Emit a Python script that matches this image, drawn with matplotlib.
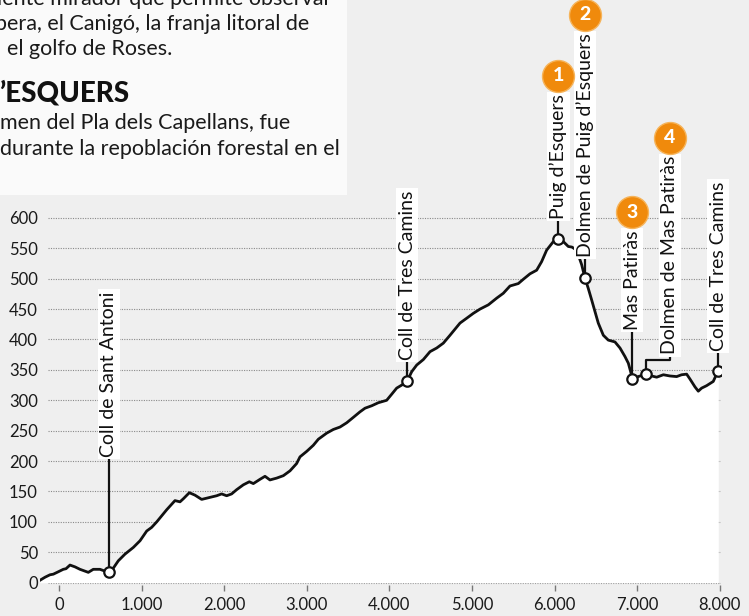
import matplotlib
matplotlib.use("Agg")
import matplotlib.pyplot as plt
import numpy as np
from matplotlib.patches import Rectangle
from matplotlib.ticker import FuncFormatter

plt.rcParams['font.family'] = ['Lato', 'DejaVu Sans']

# elevation profile (distance in m, elevation in m)
dist = [-230, -169, -109, -69, -8, 52, 85, 133, 194, 254, 355, 415, 496, 557, 605,
        658, 718, 799, 900, 981, 1062, 1122, 1183, 1304, 1404, 1465, 1505, 1578,
        1646, 1727, 1788, 1848, 1909, 1969, 2030, 2090, 2151, 2232, 2304, 2353,
        2433, 2494, 2554, 2635, 2716, 2797, 2877, 2918, 2999, 3079, 3140, 3241,
        3321, 3402, 3483, 3564, 3644, 3705, 3786, 3866, 3967, 4028, 4088, 4149,
        4217, 4270, 4331, 4411, 4492, 4573, 4653, 4734, 4855, 4936, 5016, 5097,
        5198, 5299, 5379, 5460, 5561, 5621, 5702, 5783, 5843, 5904, 5985, 6045,
        6106, 6166, 6210, 6267, 6328, 6368, 6408, 6449, 6489, 6529, 6590, 6650,
        6731, 6792, 6852, 6893, 6921, 6941, 7013, 7107, 7175, 7236, 7317, 7397,
        7478, 7538, 7599, 7639, 7700, 7740, 7780, 7840, 7921, 7982]
elev = [4, 9, 13, 14, 18, 22, 23, 29, 26, 22, 17, 22, 22, 19, 17,
        24, 36, 47, 58, 69, 85, 91, 100, 120, 135, 133, 138, 148,
        144, 137, 139, 141, 143, 146, 143, 146, 153, 161, 166, 163,
        170, 175, 169, 172, 176, 184, 196, 207, 216, 226, 236, 246,
        252, 256, 263, 272, 281, 287, 291, 296, 300, 310, 320, 325,
        332, 347, 358, 367, 380, 386, 394, 407, 427, 435, 443, 450,
        457, 468, 476, 488, 492, 499, 508, 514, 528, 547, 561, 566,
        561, 553, 552, 547, 523, 501, 484, 465, 446, 427, 407, 399,
        396, 386, 372, 361, 347, 335, 339, 343, 340, 338, 342, 340,
        339, 342, 343, 335, 322, 315, 320, 324, 331, 349]

# waypoints
wp_names = ['Coll de Sant Antoni', 'Coll de Tres Camins', 'Puig d\u2019Esquers',
            'Dolmen de Puig d\u2019Esquers', 'Mas Patir\u00e0s',
            'Dolmen de Mas Patir\u00e0s', 'Coll de Tres Camins']
wp_dist = [605, 4217, 6045, 6368, 6941, 7107, 7982]
wp_badge = ['', '', '1', '2', '3', '4', '']

# label layout: elevation where the stem ends, label x (distance)
label_base = [203, 363, 595, 532, 412, 372, 378]
label_x = [605, 4217, 6045, 6368, 6941, 7397, 7982]
elbow = [None, None, None, None, None, 366, None]

yticks = list(range(0, 601, 50))
xticks = list(range(0, 8001, 1000))

intro_lines = ['iente mirador que permite observar',
               'bera, el Canig\u00f3, la franja litoral de',
               'el golfo de Roses.']
heading = '\u2019ESQUERS'
body_lines = ['men del Pla dels Capellans, fue',
              'durante la repoblaci\u00f3n forestal en el']

W, H = 749, 616
bg = '#efefef'
orange = '#f08a0c'
ink = '#111111'

fig = plt.figure(figsize=(W / 100, H / 100), dpi=100, facecolor=bg)
ax = fig.add_axes([40 / W, 31 / H, 680.6 / W, 585 / H])
ax.set_facecolor('none')
ax.set_xlim(-230, 8010)
ax.set_ylim(-3.8, 958.4)
for s in ax.spines.values():
    s.set_visible(False)

# dotted grid
ax.hlines(yticks, -130, 8010, colors='#8a8a8a', linestyles=(0, (1, 1.2)),
          linewidth=0.8, zorder=1)

ax.fill_between(dist, elev, 0, color='white', lw=0, zorder=2)
ax.plot(dist, elev, color=ink, lw=2.0, zorder=3, solid_joinstyle='round')

wp_elev = np.interp(wp_dist, dist, elev)

ax.set_yticks(yticks)
ax.tick_params(axis='y', length=0, pad=1.5, labelsize=12, labelcolor='#1a1a1a')
ax.set_xticks(xticks)
ax.xaxis.set_major_formatter(FuncFormatter(lambda v, p: f'{int(v):,}'.replace(',', '.')))
ax.tick_params(axis='x', length=4.5, width=1, color='#777777', pad=4,
               labelsize=12, labelcolor='#1a1a1a')

labels = []
for name, x, e, base, lx, el in zip(wp_names, wp_dist, wp_elev, label_base, label_x, elbow):
    if el is None:
        ax.plot([x, x], [e, base], color=ink, lw=1.6, zorder=3)
    else:
        ax.plot([x, x, lx, lx], [e, el, el, base], color=ink, lw=1.6, zorder=3)
    t = ax.annotate(name, xy=(lx, base), xytext=(0, 1.6), textcoords='offset points',
                    rotation=90, ha='center', va='bottom', fontsize=14, color=ink,
                    bbox=dict(boxstyle='square,pad=0.12', fc='white', ec='none'),
                    zorder=6, annotation_clip=False)
    labels.append(t)
    ax.plot(x, e, 'o', ms=7.5, mfc='white', mec=ink, mew=1.6, zorder=7)

# orange badges sit right on top of the label boxes
fig.canvas.draw()
inv = ax.transData.inverted()
for t, num, lx in zip(labels, wp_badge, label_x):
    if not num:
        continue
    top = t.get_bbox_patch().get_window_extent().y1
    xd = ax.transData.transform((lx, 0))[0]
    cx, cy = inv.transform((xd, top + 16))
    ax.plot(cx, cy, 'o', ms=23, mfc=orange, mec='#f6b45a', mew=1.0, zorder=8, clip_on=False)
    ax.text(cx, cy, num, ha='center', va='center', color='white', fontsize=14,
            fontweight='black', zorder=9, clip_on=False)

# white text panel at top left
fig.add_artist(Rectangle((0, 1 - 195 / H), 347 / W, 195 / H, transform=fig.transFigure,
                         fc='#fafafa', ec='none', zorder=10))
txt = dict(color='#1a1a1a', fontsize=15.5, va='baseline', ha='left', zorder=11)
fig.text(-3 / W, 1 - 5 / H, intro_lines[0], **txt)
fig.text(-5 / W, 1 - 30.5 / H, intro_lines[1], **txt)
fig.text(7 / W, 1 - 55 / H, intro_lines[2], **txt)
fig.text(0, 1 - 101.5 / H, heading, color='#111111', fontsize=20, fontweight='black',
         va='baseline', ha='left', zorder=11)
fig.text(0, 1 - 129 / H, body_lines[0], **txt)
fig.text(0, 1 - 155 / H, body_lines[1], **txt)

fig.savefig('out.png', dpi=100, facecolor=bg)
